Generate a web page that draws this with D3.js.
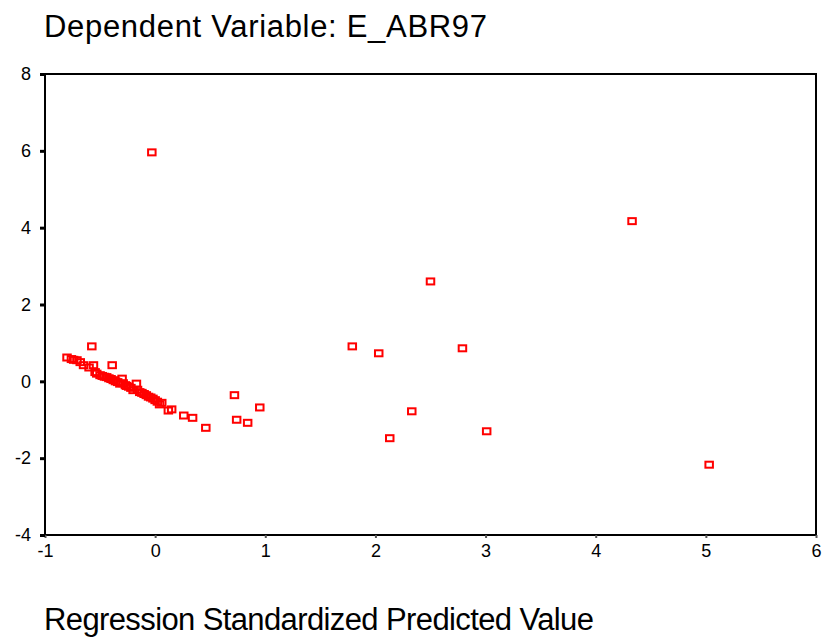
<!DOCTYPE html>
<html>
<head>
<meta charset="utf-8">
<script src="https://cdn.jsdelivr.net/npm/d3@7"></script>
<style>
  body { margin: 0; background: #fff; }
  svg text { font-family: Arial, "Liberation Sans", sans-serif; fill: #000; }
</style>
</head>
<body>
<div id="chart"></div>
<script>
// data
var xTicks = [-1, 0, 1, 2, 3, 4, 5, 6];
var yTicks = [-4, -2, 0, 2, 4, 6, 8];
// predicted (x) vs residual (y)
var predicted = [
  -0.03, 4.33, 2.50, 1.79, 2.03, 2.79, 2.33, 2.13, 3.01, 5.03,
  0.72, 0.74, 0.84, 0.95, 0.46, 0.34, 0.26, 0.12, 0.15, 0.06, 0.04,
  -0.575, -0.80, -0.76, -0.74, -0.71, -0.68, -0.65, -0.60, -0.56, -0.39,
  -0.545, -0.53, -0.50, -0.48, -0.46, -0.44, -0.42, -0.40, -0.38, -0.36,
  -0.34, -0.32, -0.30, -0.29, -0.27, -0.26, -0.24, -0.22, -0.20, -0.17,
  -0.16, -0.14, -0.12, -0.10, -0.08, -0.06, -0.04, -0.02, 0.00, 0.02
];
var residual = [
  5.96, 4.17, 2.60, 0.91, 0.73, 0.86, -0.78, -1.48, -1.30, -2.17,
  -0.36, -1.00, -1.08, -0.68, -1.21, -0.95, -0.89, -0.76, -0.73, -0.56, -0.60,
  0.91, 0.62, 0.58, 0.56, 0.55, 0.50, 0.42, 0.36, 0.42, 0.42,
  0.24, 0.20, 0.16, 0.14, 0.12, 0.11, 0.08, 0.06, 0.03, 0.00,
  -0.02, -0.06, 0.07, -0.05, -0.10, -0.12, -0.14, -0.17, -0.23, -0.06,
  -0.22, -0.28, -0.30, -0.33, -0.36, -0.40, -0.42, -0.45, -0.49, -0.53
];

var width = 825, height = 642;
var plot = { left: 45, top: 74, right: 816, bottom: 535 };

var svg = d3.select('#chart').append('svg')
  .attr('width', width)
  .attr('height', height);

var xScale = d3.scaleLinear().domain([-1, 6]).range([plot.left, plot.right]);
var yScale = d3.scaleLinear().domain([-4, 8]).range([plot.bottom, plot.top]);

// frame
svg.append('rect')
  .attr('x', plot.left)
  .attr('y', plot.top)
  .attr('width', plot.right - plot.left)
  .attr('height', plot.bottom - plot.top)
  .attr('fill', 'none')
  .attr('stroke', '#000')
  .attr('stroke-width', 2);

// axes, plain hyphen for negatives
var fmt = function (d) { return String(d); };
var xAxis = d3.axisBottom(xScale).tickValues(xTicks).tickSize(3).tickPadding(6).tickFormat(fmt);
var yAxis = d3.axisLeft(yScale).tickValues(yTicks).tickSize(5).tickPadding(9).tickFormat(fmt);

var gx = svg.append('g')
  .attr('transform', 'translate(0,' + plot.bottom + ')')
  .call(xAxis);
var gy = svg.append('g')
  .attr('transform', 'translate(' + plot.left + ',0)')
  .call(yAxis);

[gx, gy].forEach(function (g) {
  g.select('.domain').remove();
  g.selectAll('.tick line').attr('stroke', '#000').attr('stroke-width', 3);
  g.selectAll('.tick text')
    .style('font-size', '18px')
    .style('font-family', 'Arial, "Liberation Sans", sans-serif');
});
gx.selectAll('.tick line').attr('stroke', '#555').attr('stroke-width', 2);

// points
var pts = predicted.map(function (p, i) { return { x: p, y: residual[i] }; });
svg.append('g').selectAll('rect')
  .data(pts)
  .enter().append('rect')
  .attr('x', function (d) { return xScale(d.x) - 3.75; })
  .attr('y', function (d) { return yScale(d.y) - 3; })
  .attr('width', 7.5)
  .attr('height', 6)
  .attr('fill', 'none')
  .attr('stroke', '#ff0000')
  .attr('stroke-width', 2);

// title and label
svg.append('text')
  .attr('x', 44)
  .attr('y', 37)
  .attr('textLength', 443)
  .style('font-size', '31px')
  .text('Dependent Variable: E_ABR97');

svg.append('text')
  .attr('x', 44)
  .attr('y', 630)
  .attr('textLength', 550)
  .style('font-size', '31px')
  .text('Regression Standardized Predicted Value');
</script>
</body>
</html>
